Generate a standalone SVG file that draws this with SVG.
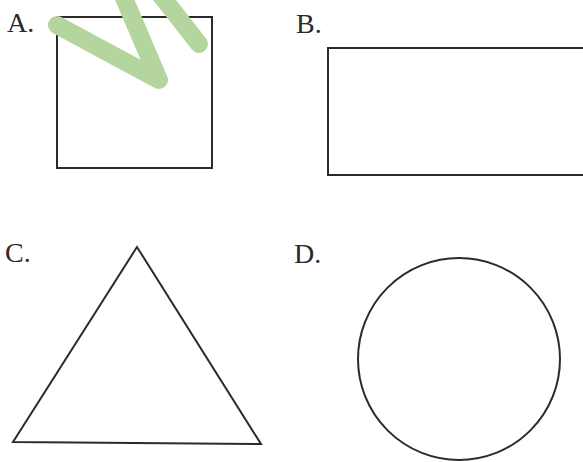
<svg xmlns="http://www.w3.org/2000/svg" width="583" height="462" viewBox="0 0 583 462">
<style>
.shape{fill:none;stroke:#2b2b2b;stroke-width:2}
.lbl{font-family:"Liberation Serif","DejaVu Serif",serif;font-size:28px;fill:#2a2a2a}
</style>
<rect width="583" height="462" fill="#ffffff"/>
<g id="optionA">
<rect class="shape" x="57" y="17" width="155" height="151"/>
<text class="lbl" x="7" y="32">A.</text>
</g>
<g id="optionB">
<rect class="shape" x="328" y="48" width="270" height="127"/>
<text class="lbl" x="296" y="33">B.</text>
</g>
<g id="optionC">
<polygon class="shape" points="137,247 13,442 261,444"/>
<text class="lbl" x="5" y="262">C.</text>
</g>
<g id="optionD">
<circle class="shape" cx="459" cy="359" r="101"/>
<text class="lbl" x="294" y="263">D.</text>
</g>
<g id="watermark">
<path d="M57,25 L159,80 L118,-16 L152,-16 L199,44" fill="none" stroke="#b4d69e" stroke-width="18" stroke-linecap="round" stroke-linejoin="round"/>
</g>
</svg>
